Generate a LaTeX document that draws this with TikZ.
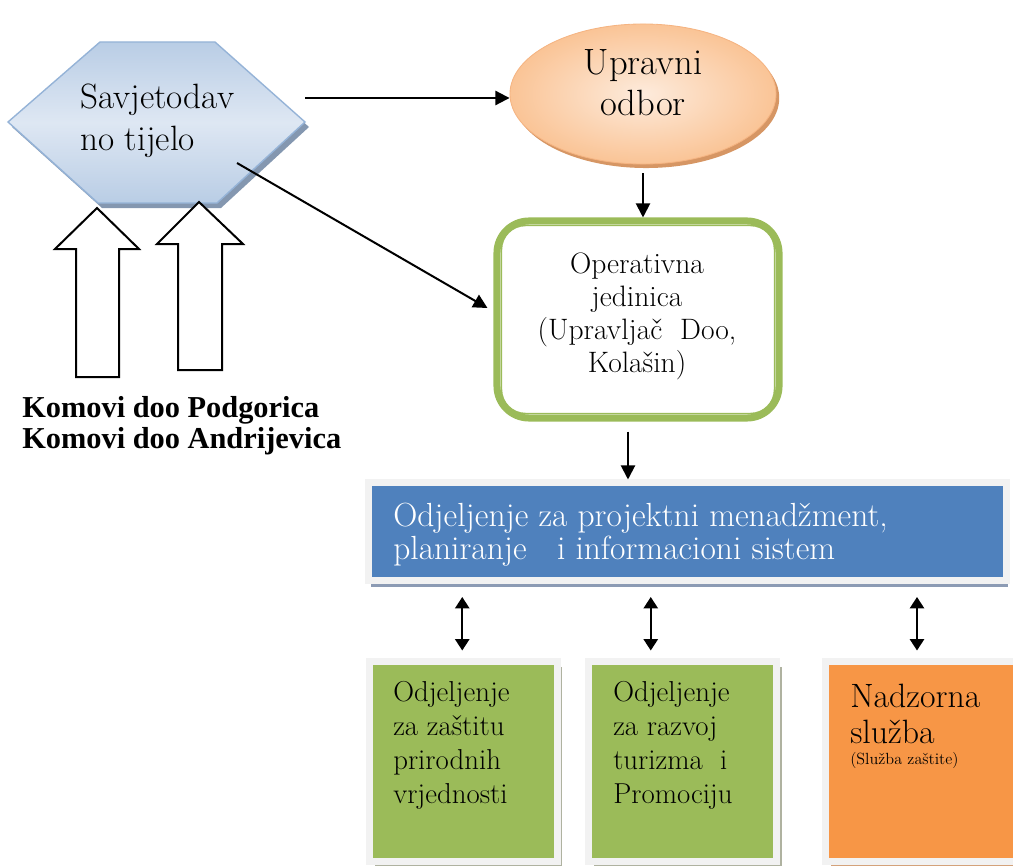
\documentclass[tikz,border=0pt]{standalone}
\usepackage{fontspec}
\newfontfamily\komfont{Liberation Serif}
\usepackage{tikz}
\usetikzlibrary{arrows.meta,shapes.geometric,shadows}
\definecolor{HX}{RGB}{222,231,243}
\definecolor{HXd}{RGB}{185,205,229}
\definecolor{HXb}{RGB}{149,179,215}
\definecolor{HXs}{RGB}{132,151,176}
\definecolor{UO}{RGB}{253,235,220}
\definecolor{UOd}{RGB}{250,196,150}
\definecolor{UOb}{RGB}{245,180,130}
\definecolor{UOs}{RGB}{214,150,100}
\definecolor{G}{RGB}{155,187,89}
\definecolor{B}{RGB}{79,129,189}
\definecolor{O}{RGB}{247,150,70}
\definecolor{FR}{RGB}{242,242,242}
\definecolor{SG}{RGB}{175,178,160}
\definecolor{SB}{RGB}{140,155,180}
\definecolor{SO}{RGB}{212,162,122}

\begin{document}
\begin{tikzpicture}[x=0.025cm,y=-0.025cm,
  arr/.style={-{Triangle[length=10pt,width=10pt]}, line width=0.05cm},
  darr/.style={{Triangle[length=8pt,width=10pt]}-{Triangle[length=8pt,width=10pt]}, line width=0.05cm},
  blk/.style={draw=black, line width=0.05cm, fill=white},
  frm/.style={draw=FR, line width=0.175cm, inner sep=0pt},
  txt/.style={inner sep=0pt, align=left, anchor=west}]
  \useasboundingbox (0,0) rectangle (1013,867);

  \fill[HXs] (12,127) -- (104,47) -- (219,47) -- (309,127) -- (221,208) -- (102,208) -- cycle;
  \draw[HXb, line width=1pt, top color=HXd, bottom color=HXd, middle color=HX]
    (8,122) -- (100,42) -- (215,42) -- (305,122) -- (217,203) -- (98,203) -- cycle;
  \coordinate (savE) at (305,98);
  \coordinate (savD) at (237,163);
  \node[txt, font=\fontsize{25}{30}\selectfont] (sav) at (80,121) {Savjetodav\\no tijelo};

  \draw[blk] (97,208) -- (139,249) -- (119,249) -- (119,377) -- (76,377) -- (76,249) -- (55,249) -- cycle;
  \draw[blk] (199,202) -- (243,244) -- (222,244) -- (222,370) -- (178,370) -- (178,244) -- (157,244) -- cycle;
  \node[txt, font=\komfont\bfseries\fontsize{21.6}{22}\selectfont] (kom) at (22,426)
    {Komovi doo Podgorica\\Komovi doo Andrijevica};

  \node[ellipse, draw=UOb, line width=0.6pt, inner color=UO, outer color=UOd,
    minimum width=6.65cm, minimum height=3.5cm,
    drop shadow={shadow xshift=0.08cm, shadow yshift=-0.1cm, fill=UOs, opacity=1}] (uo) at (643,94) {};
  \node[align=center, inner sep=0pt, font=\fontsize{26}{29}\selectfont] (uoT) at (643,83) {Upravni\\odbor};

  \node[draw=G, line width=0.175cm, rounded corners=0.8cm, fill=white,
    minimum width=7.05cm, minimum height=4.925cm] (op) at (638,319.5) {};
  \draw[G, line width=1.1pt, rounded corners=0.6cm]
    ([shift={(8,8)}]op.north west) rectangle ([shift={(-8,-8)}]op.south east);
  \node[align=center, inner sep=0pt, font=\fontsize{21}{23.5}\selectfont] (opT) at (637,316)
    {Operativna\\jedinica\\(Upravljač\ \ Doo,\\Kolašin)};

  \node[frm, fill=B, minimum width=15.925cm, minimum height=2.425cm,
    drop shadow={shadow xshift=0.05cm, shadow yshift=-0.17cm, fill=SB, opacity=1}] (pm) at (687.5,531.5) {};
  \node[txt, text=white, font=\fontsize{23.8}{23.5}\selectfont] (pmT) at (393,535)
    {Odjeljenje za projektni menadžment,\\planiranje\ \ \ i informacioni sistem};

  \node[frm, fill=G, minimum width=4.69cm, minimum height=4.975cm,
    drop shadow={shadow xshift=0.13cm, shadow yshift=-0.13cm, fill=SG, opacity=1}] (zas) at (463.25,761.5) {};
  \node[frm, fill=G, minimum width=4.69cm, minimum height=4.975cm,
    drop shadow={shadow xshift=0.13cm, shadow yshift=-0.13cm, fill=SG, opacity=1}] (raz) at (682.75,761.5) {};
  \node[frm, fill=O, minimum width=4.775cm, minimum height=4.975cm,
    drop shadow={shadow xshift=0.13cm, shadow yshift=-0.13cm, fill=SO, opacity=1}] (nad) at (921.5,761.5) {};
  \node[txt, font=\fontsize{20.5}{24.2}\selectfont] (zasT) at (393,745)
    {Odjeljenje\\za zaštitu\\prirodnih\\vrjednosti};
  \node[txt, font=\fontsize{20.5}{24.2}\selectfont] (razT) at (613,745)
    {Odjeljenje\\za razvoj\\turizma\ \ i\\Promociju};
  \node[txt, font=\fontsize{24}{26}\selectfont] (nadT) at (850,714) {Nadzorna\\služba};
  \node[txt, font=\fontsize{11.5}{13}\selectfont] (nadS) at (850,760) {(Služba zaštite)};

  \draw[arr] (savE) -- (uo.west |- savE);
  \draw[arr] (savD) -- ([shift={(-6,-11.5)}]op.west);
  \coordinate (a0) at ([yshift=-0.22cm]uo.south);
  \draw[arr] (a0) -- (a0 |- op.north);
  \coordinate (a1) at ([shift={(-10,10)}]op.south);
  \draw[arr] (a1) -- (a1 |- pm.north);
  \foreach \b/\dx in {zas/-1, raz/-32, nad/-4.5} {
    \coordinate (t) at ([shift={(\dx,-8)}]\b.north);
    \path (t |- pm.south) ++(0,13.5) coordinate (s);
    \draw[darr] (s) -- (t);
  }
\end{tikzpicture}
\end{document}
